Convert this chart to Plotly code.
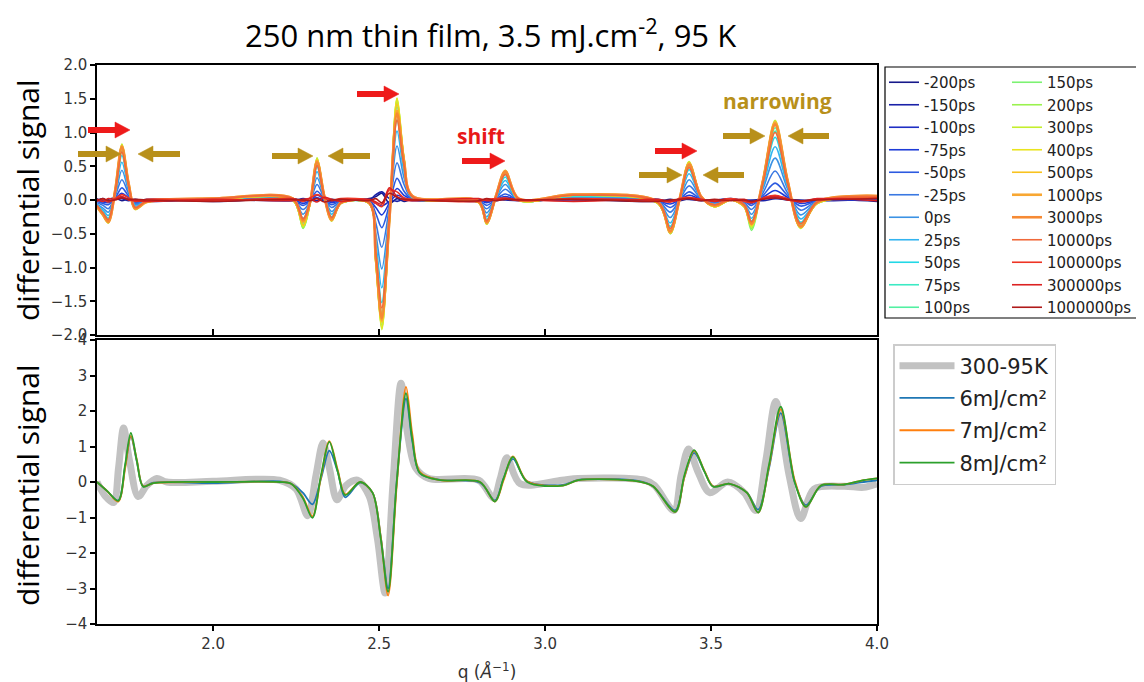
import plotly.graph_objects as go

# ---------------- data: top panel (time delays) ----------------
Q_TOP = [1.650, 1.668, 1.684, 1.705, 1.725, 1.745, 1.765, 1.80, 2.00, 2.24,
         2.271, 2.292, 2.313, 2.335, 2.357, 2.385, 2.47, 2.49, 2.508, 2.531,
         2.554, 2.575, 2.60, 2.80, 2.824, 2.852, 2.88, 2.92, 3.084, 3.34,
         3.377, 3.405, 3.434, 3.47, 3.51, 3.56, 3.60, 3.622, 3.657, 3.693,
         3.73, 3.77, 3.82, 4.00]

TIME_LABELS = ["-200ps", "-150ps", "-100ps", "-75ps", "-50ps", "-25ps", "0ps", "25ps",
               "50ps", "75ps", "100ps", "150ps", "200ps", "300ps", "400ps", "500ps",
               "1000ps", "3000ps", "10000ps", "100000ps", "300000ps", "1000000ps"]

S_M200 = [0.02, -0.02, 0.01, 0.03, -0.01, 0.02, -0.02, 0.01, -0.02, 0.02, -0.01, 0.01, 0.03, -0.02, 0.01, -0.01, 0.02, 0.05, 0.10, -0.05, 0.02, -0.02, 0.01, -0.02, 0.01, -0.01, 0.02, 0.00, 0.01, -0.02, 0.01, -0.01, 0.02, 0.00, -0.02, 0.01, 0.00, -0.01, 0.02, 0.03, 0.00, -0.02, 0.01, -0.02]
S_M150 = [-0.01, 0.02, -0.02, 0.01, 0.02, -0.01, 0.01, -0.02, 0.01, -0.01, 0.02, 0.00, -0.01, 0.02, -0.01, 0.01, 0.00, 0.08, 0.12, 0.02, -0.02, 0.01, -0.01, 0.01, -0.02, 0.01, 0.00, -0.01, 0.02, 0.01, -0.02, 0.01, 0.01, -0.01, 0.00, 0.02, -0.01, 0.00, -0.01, 0.02, 0.01, 0.00, -0.01, 0.01]
S_M100 = [-0.01, -0.01, -0.02, 0.01, 0.04, 0.01, -0.01, 0.00, 0.00, 0.00, -0.02, 0.00, 0.03, 0.00, -0.02, 0.00, 0.00, -0.05, -0.09, -0.02, 0.07, 0.03, 0.00, 0.00, -0.02, 0.00, 0.02, 0.00, 0.00, 0.00, -0.02, 0.00, 0.03, 0.00, -0.01, 0.00, -0.01, -0.02, 0.02, 0.06, 0.02, -0.02, 0.00, 0.00]
S_M75 = [-0.01, -0.03, -0.04, 0.02, 0.10, 0.03, -0.02, 0.00, 0.00, 0.00, -0.05, -0.01, 0.07, 0.01, -0.04, -0.01, -0.01, -0.11, -0.22, -0.04, 0.17, 0.07, 0.01, 0.00, -0.04, 0.01, 0.05, 0.00, 0.01, -0.01, -0.06, 0.00, 0.07, 0.01, -0.01, 0.00, -0.01, -0.05, 0.04, 0.14, 0.04, -0.05, -0.01, 0.01]
S_M50 = [-0.02, -0.05, -0.07, 0.03, 0.18, 0.06, -0.03, -0.01, 0.00, 0.00, -0.08, -0.01, 0.13, 0.01, -0.07, -0.01, -0.01, -0.20, -0.41, -0.07, 0.32, 0.13, 0.01, -0.01, -0.08, 0.01, 0.09, 0.00, 0.02, -0.01, -0.11, 0.00, 0.12, 0.01, -0.02, 0.00, -0.02, -0.08, 0.07, 0.25, 0.07, -0.09, -0.01, 0.01]
S_M25 = [-0.04, -0.08, -0.13, 0.06, 0.30, 0.10, -0.05, -0.01, 0.00, 0.00, -0.14, -0.02, 0.23, 0.02, -0.11, -0.02, -0.02, -0.34, -0.70, -0.11, 0.55, 0.23, 0.02, -0.02, -0.13, 0.02, 0.16, 0.00, 0.03, -0.02, -0.18, 0.00, 0.21, 0.02, -0.04, 0.00, -0.04, -0.14, 0.11, 0.43, 0.11, -0.15, -0.02, 0.02]
S_0 = [-0.06, -0.12, -0.18, 0.08, 0.44, 0.14, -0.07, -0.02, 0.01, 0.00, -0.21, -0.03, 0.33, 0.03, -0.17, -0.03, -0.03, -0.50, -1.02, -0.17, 0.80, 0.33, 0.03, -0.02, -0.19, 0.03, 0.23, 0.00, 0.04, -0.03, -0.26, 0.00, 0.30, 0.03, -0.06, 0.00, -0.06, -0.21, 0.17, 0.62, 0.17, -0.22, -0.03, 0.03]
S_25 = [-0.07, -0.15, -0.23, 0.11, 0.56, 0.18, -0.09, -0.02, 0.01, 0.00, -0.27, -0.04, 0.42, 0.04, -0.21, -0.04, -0.04, -0.63, -1.30, -0.21, 1.02, 0.42, 0.04, -0.03, -0.25, 0.04, 0.29, 0.00, 0.05, -0.04, -0.34, 0.00, 0.39, 0.04, -0.07, 0.00, -0.07, -0.27, 0.21, 0.79, 0.21, -0.28, -0.04, 0.04]
S_50 = [-0.08, -0.18, -0.27, 0.12, 0.66, 0.21, -0.11, -0.02, 0.01, 0.00, -0.31, -0.04, 0.49, 0.04, -0.25, -0.04, -0.04, -0.74, -1.52, -0.25, 1.19, 0.49, 0.04, -0.03, -0.29, 0.04, 0.34, 0.00, 0.06, -0.04, -0.39, 0.00, 0.45, 0.04, -0.08, 0.00, -0.08, -0.31, 0.25, 0.93, 0.25, -0.33, -0.04, 0.04]
S_75 = [-0.09, -0.20, -0.30, 0.14, 0.72, 0.23, -0.12, -0.03, 0.01, 0.00, -0.34, -0.05, 0.54, 0.05, -0.27, -0.05, -0.05, -0.81, -1.67, -0.27, 1.31, 0.54, 0.05, -0.04, -0.32, 0.05, 0.38, 0.00, 0.06, -0.05, -0.43, 0.00, 0.50, 0.05, -0.09, 0.00, -0.09, -0.34, 0.27, 1.02, 0.27, -0.36, -0.05, 0.05]
S_100 = [-0.10, -0.21, -0.31, 0.14, 0.76, 0.24, -0.12, -0.03, 0.01, 0.00, -0.36, -0.05, 0.57, 0.05, -0.29, -0.05, -0.05, -0.86, -1.76, -0.29, 1.38, 0.57, 0.05, -0.04, -0.33, 0.05, 0.40, 0.00, 0.07, -0.05, -0.46, 0.00, 0.52, 0.05, -0.10, 0.00, -0.10, -0.36, 0.29, 1.07, 0.29, -0.38, -0.05, 0.05]
S_150 = [-0.10, -0.22, -0.33, 0.15, 0.80, 0.25, -0.13, -0.03, 0.01, 0.00, -0.42, -0.05, 0.60, 0.05, -0.30, -0.05, -0.05, -0.90, -1.85, -0.30, 1.45, 0.60, 0.05, -0.04, -0.35, 0.05, 0.42, 0.00, 0.07, -0.05, -0.50, 0.00, 0.55, 0.05, -0.10, 0.00, -0.10, -0.45, 0.30, 1.13, 0.30, -0.40, -0.05, 0.05]
S_200 = [-0.10, -0.22, -0.34, 0.15, 0.82, 0.26, -0.13, -0.03, 0.01, 0.00, -0.41, -0.05, 0.62, 0.05, -0.31, -0.05, -0.05, -0.92, -1.89, -0.31, 1.48, 0.61, 0.05, -0.04, -0.36, 0.05, 0.43, 0.00, 0.07, -0.05, -0.49, 0.00, 0.56, 0.05, -0.10, 0.00, -0.10, -0.42, 0.31, 1.15, 0.31, -0.41, -0.05, 0.05]
S_300 = [-0.10, -0.23, -0.34, 0.16, 0.83, 0.26, -0.14, -0.03, 0.01, 0.00, -0.40, -0.05, 0.62, 0.05, -0.31, -0.05, -0.05, -0.94, -1.92, -0.31, 1.51, 0.62, 0.05, -0.04, -0.36, 0.05, 0.44, 0.00, 0.07, -0.05, -0.50, 0.00, 0.57, 0.05, -0.10, 0.00, -0.10, -0.40, 0.31, 1.18, 0.31, -0.42, -0.05, 0.05]
S_400 = [-0.10, -0.22, -0.33, 0.15, 0.80, 0.25, -0.13, -0.03, 0.01, 0.00, -0.38, -0.05, 0.60, 0.05, -0.30, -0.05, -0.05, -0.92, -1.90, -0.30, 1.50, 0.60, 0.05, -0.04, -0.35, 0.05, 0.42, 0.00, 0.07, -0.05, -0.48, 0.00, 0.55, 0.05, -0.10, 0.00, -0.10, -0.38, 0.30, 1.13, 0.30, -0.40, -0.05, 0.05]
S_500 = [-0.10, -0.22, -0.32, 0.15, 0.78, 0.25, -0.13, -0.03, 0.01, 0.00, -0.37, -0.05, 0.59, 0.05, -0.29, -0.05, -0.05, -0.88, -1.81, -0.29, 1.42, 0.59, 0.05, -0.04, -0.34, 0.05, 0.41, 0.00, 0.07, -0.05, -0.47, 0.00, 0.54, 0.05, -0.10, 0.00, -0.10, -0.37, 0.29, 1.11, 0.29, -0.39, -0.05, 0.05]
S_1000 = [-0.10, -0.22, -0.33, 0.15, 0.80, 0.25, -0.13, -0.03, 0.02, 0.02, -0.32, -0.03, 0.58, 0.05, -0.30, -0.04, -0.04, -0.86, -1.78, -0.28, 1.32, 0.58, 0.06, -0.02, -0.34, 0.06, 0.43, 0.02, 0.08, -0.03, -0.48, 0.01, 0.54, 0.05, -0.08, 0.01, -0.08, -0.36, 0.30, 1.15, 0.30, -0.40, -0.03, 0.06]
S_3000 = [-0.09, -0.21, -0.32, 0.14, 0.78, 0.24, -0.12, -0.02, 0.02, 0.02, -0.30, -0.03, 0.56, 0.05, -0.28, -0.04, -0.04, -0.84, -1.75, -0.27, 1.28, 0.56, 0.06, -0.02, -0.33, 0.06, 0.42, 0.02, 0.08, -0.03, -0.46, 0.01, 0.52, 0.05, -0.08, 0.01, -0.08, -0.35, 0.29, 1.12, 0.29, -0.39, -0.03, 0.06]
S_10000 = [-0.08, -0.19, -0.29, 0.13, 0.71, 0.22, -0.11, -0.02, 0.02, 0.02, -0.28, -0.03, 0.51, 0.04, -0.26, -0.04, -0.04, -0.78, -1.60, -0.25, 1.18, 0.51, 0.05, -0.02, -0.31, 0.05, 0.38, 0.02, 0.07, -0.03, -0.42, 0.01, 0.48, 0.04, -0.07, 0.01, -0.07, -0.32, 0.26, 1.00, 0.26, -0.35, -0.03, 0.05]
S_100000 = [-0.02, 0.01, -0.03, 0.02, 0.08, 0.03, -0.02, 0.01, -0.01, 0.02, -0.02, 0.03, 0.08, 0.03, -0.01, 0.02, 0.00, -0.05, -0.10, 0.15, 0.12, 0.03, 0.01, -0.02, 0.01, 0.02, 0.03, -0.01, 0.02, -0.01, -0.03, 0.02, 0.04, 0.00, -0.01, 0.02, -0.02, -0.04, 0.03, 0.07, 0.02, -0.03, 0.01, 0.03]
S_300000 = [0.01, -0.02, 0.02, 0.01, 0.05, 0.00, -0.01, -0.02, 0.01, -0.01, 0.01, 0.02, -0.03, 0.04, 0.01, -0.02, 0.01, -0.03, -0.06, 0.18, 0.05, 0.00, -0.01, 0.02, -0.01, 0.00, 0.02, 0.01, -0.02, 0.01, -0.02, 0.00, 0.03, 0.01, -0.02, 0.00, 0.01, -0.03, 0.02, 0.05, 0.00, -0.02, 0.02, -0.01]
S_1000000 = [-0.01, 0.02, -0.01, 0.00, 0.03, 0.01, 0.01, 0.00, -0.02, 0.01, 0.00, -0.01, 0.02, -0.03, 0.00, 0.01, -0.01, 0.02, -0.04, 0.10, 0.04, 0.01, 0.00, -0.01, 0.02, -0.01, 0.01, 0.00, 0.01, -0.02, 0.00, 0.01, 0.02, -0.01, 0.01, -0.01, 0.00, -0.02, 0.01, 0.03, 0.01, -0.01, 0.00, 0.02]

TOP_SERIES = [S_M200, S_M150, S_M100, S_M75, S_M50, S_M25, S_0, S_25, S_50, S_75, S_100,
              S_150, S_200, S_300, S_400, S_500, S_1000, S_3000, S_10000, S_100000,
              S_300000, S_1000000]

TIME_COLORS = ["#16198a", "#1a22a8", "#1f2fc4", "#1e3cd8", "#2c5ae0", "#3a78e2",
               "#3b92e4", "#33b4f0", "#22d8e6", "#3ceac4", "#52f0a2", "#7cf272",
               "#9af24e", "#c4ee2c", "#eae41e", "#f8c21e", "#f8a732", "#f68a34",
               "#f0693a", "#ee3424", "#dc2222", "#b01a1a"]

# ---------------- data: bottom panel (fluence) ----------------
Q_BOT = [1.650, 1.680, 1.714, 1.735, 1.752, 1.770, 1.789, 1.82, 2.00, 2.20,
         2.235, 2.27, 2.299, 2.325, 2.35, 2.375, 2.398, 2.443, 2.48, 2.505,
         2.527, 2.553, 2.581, 2.60, 2.623, 2.684, 2.804, 2.849, 2.875, 2.903,
         2.946, 3.054, 3.10, 3.28, 3.325, 3.392, 3.42, 3.449, 3.48, 3.506,
         3.556, 3.608, 3.642, 3.675, 3.71, 3.752, 3.786, 3.831, 3.90, 3.96, 4.00]

BOT_6MJ = [0.00, -0.25, -0.52, 0.45, 1.27, 0.58, -0.12, -0.02, -0.03, 0.02,
           -0.05, -0.30, -0.63, 0.10, 0.88, 0.30, -0.43, -0.02, -0.30, -1.55,
           -3.00, 0.00, 2.35, 1.15, 0.25, 0.06, -0.02, -0.52, 0.10, 0.65,
           0.02, -0.08, 0.06, 0.03, -0.12, -0.80, 0.15, 0.82, 0.30, -0.12,
           -0.05, -0.30, -0.78, 0.40, 1.94, 0.00, -0.65, -0.12, -0.08, 0.00, 0.05]
BOT_7MJ = [0.00, -0.25, -0.55, 0.40, 1.30, 0.62, -0.12, -0.03, 0.00, 0.00,
           -0.05, -0.42, -0.97, 0.15, 1.15, 0.35, -0.35, 0.00, -0.30, -1.55,
           -3.20, -0.10, 2.68, 1.35, 0.28, 0.05, 0.00, -0.55, 0.05, 0.72,
           0.02, -0.10, 0.05, 0.02, -0.12, -0.84, 0.15, 0.88, 0.32, -0.12,
           -0.05, -0.30, -0.86, 0.45, 2.05, 0.05, -0.70, -0.10, -0.07, 0.05, 0.10]
BOT_8MJ = [0.00, -0.25, -0.53, 0.50, 1.38, 0.60, -0.13, -0.03, 0.00, 0.00,
           -0.05, -0.45, -1.01, 0.20, 1.13, 0.30, -0.37, 0.00, -0.30, -1.60,
           -3.09, 0.00, 2.50, 1.20, 0.25, 0.05, 0.00, -0.55, 0.10, 0.71,
           0.00, -0.10, 0.05, 0.02, -0.12, -0.84, 0.20, 0.90, 0.30, -0.13,
           -0.05, -0.30, -0.86, 0.50, 2.12, 0.00, -0.70, -0.10, -0.07, 0.05, 0.10]

Q_GRAY = [1.650, 1.675, 1.700, 1.715, 1.730, 1.748, 1.774, 1.80, 1.83, 1.86,
          2.00, 2.20, 2.25, 2.285, 2.31, 2.331, 2.35, 2.373, 2.40, 2.435,
          2.47, 2.495, 2.518, 2.542, 2.566, 2.585, 2.61, 2.65, 2.80, 2.845,
          2.865, 2.885, 2.925, 3.05, 3.10, 3.30, 3.33, 3.388, 3.41, 3.432,
          3.46, 3.496, 3.55, 3.60, 3.635, 3.665, 3.695, 3.735, 3.77, 3.81,
          3.90, 3.96, 4.00]
BOT_300_95K = [0.00, -0.40, -0.58, 0.40, 1.52, 0.60, -0.41, -0.10, 0.10, 0.00,
               0.02, 0.05, -0.20, -0.95, 0.20, 1.10, 0.40, -0.50, -0.10, 0.05,
               -0.40, -1.60, -3.13, 0.00, 2.78, 1.40, 0.40, 0.10, 0.05, -0.45,
               0.10, 0.68, -0.05, 0.05, 0.10, 0.05, -0.10, -0.80, 0.20, 0.93,
               0.30, -0.30, 0.00, -0.30, -0.80, 0.60, 2.27, 0.20, -1.03, -0.20,
               -0.12, -0.15, -0.05]

FLUENCE_LABELS = ["300-95K", "6mJ/cm²", "7mJ/cm²", "8mJ/cm²"]

# ---------------- geometry ----------------
W, H = 1144, 682
OFF = 8                       # page body margin of the browser
L, R, T, B = 89, 869, 57, 616  # plot area in figure pixels


def sx(x):
    """screen pixel x -> paper x"""
    return (x - OFF - L) / (R - L)


def sy(y):
    """screen pixel y -> paper y"""
    return (B - (y - OFF)) / (B - T)


fig = go.Figure()

n_col = 11
for i, (lab, vals, col) in enumerate(zip(TIME_LABELS, TOP_SERIES, TIME_COLORS)):
    wid = 2.6 if lab in ("1000ps", "3000ps") else 1.6
    fig.add_trace(go.Scatter(
        x=Q_TOP, y=vals, mode="lines", name=lab,
        line=dict(color=col, width=wid, shape="spline", smoothing=0.9),
        xaxis="x", yaxis="y", legend="legend" if i < n_col else "legend3"))

bot_sets = [(Q_GRAY, BOT_300_95K, "#c2c2c2", 7),
            (Q_BOT, BOT_6MJ, "#1f77b4", 1.8),
            (Q_BOT, BOT_7MJ, "#ff7f0e", 1.8),
            (Q_BOT, BOT_8MJ, "#2ca02c", 1.8)]
for lab, (qx, vals, col, wid) in zip(FLUENCE_LABELS, bot_sets):
    fig.add_trace(go.Scatter(
        x=qx, y=vals, mode="lines", name=lab, legendgroup=lab,
        line=dict(color=col, width=wid, shape="spline", smoothing=0.9),
        xaxis="x2", yaxis="y2", legend="legend2"))

tick_font = dict(family="DejaVu Sans", size=15, color="#333333")
axis_common = dict(showline=True, mirror=True, linecolor="black", linewidth=1.5,
                   showgrid=False, zeroline=False, tickcolor="black", tickwidth=2,
                   tickfont=tick_font)

top_dom = [sy(335), sy(65)]
bot_dom = [sy(624), sy(340)]

leg_font = dict(family="DejaVu Sans", size=15, color="#222222")
fig.update_layout(
    width=W, height=H,
    margin=dict(l=L, r=W - R, t=T, b=H - B, autoexpand=False),
    paper_bgcolor="white", plot_bgcolor="white",
    xaxis=dict(domain=[0, 1], range=[1.65, 4.0], anchor="y", showticklabels=False,
               ticks="inside", ticklen=6, tickvals=[2.0, 2.5, 3.0, 3.5, 4.0], **axis_common),
    yaxis=dict(domain=top_dom, range=[-2.0, 2.0], anchor="x", ticks="outside", ticklen=5,
               dtick=0.5, tick0=0, tickformat=".1f", **axis_common),
    xaxis2=dict(domain=[0, 1], range=[1.65, 4.0], anchor="y2", matches="x", ticks="outside",
                ticklen=5, tickvals=[2.0, 2.5, 3.0, 3.5, 4.0], tickformat=".1f",
                title=dict(text="q (<i>Å</i><sup>−1</sup>)",
                           font=dict(family="DejaVu Sans", size=17, color="#333333"),
                           standoff=14),
                **axis_common),
    yaxis2=dict(domain=bot_dom, range=[-4, 4], anchor="x2", ticks="outside", ticklen=5,
                dtick=1, tick0=0, **axis_common),
    legend=dict(x=sx(884), y=sy(66), xanchor="left", yanchor="top", itemwidth=30,
                bgcolor="rgba(0,0,0,0)", borderwidth=0, font=leg_font),
    legend3=dict(x=sx(1007), y=sy(66), xanchor="left", yanchor="top", itemwidth=30,
                 bgcolor="rgba(0,0,0,0)", borderwidth=0, font=leg_font),
    legend2=dict(x=sx(893), y=sy(344), xanchor="left", yanchor="top",
                 bordercolor="#cccccc", borderwidth=1.5, bgcolor="white", itemwidth=55,
                 tracegroupgap=2, traceorder="grouped",
                 font=dict(family="DejaVu Sans", size=21, color="#222222")),
    showlegend=True,
)

ann = []
ann.append(dict(text="250 nm thin film, 3.5 mJ.cm<sup>-2</sup>, 95 K", xref="paper", yref="paper",
                x=sx(490), y=sy(34), showarrow=False, xanchor="center", yanchor="middle",
                font=dict(family="Open Sans", size=31, color="black")))
for yc in (200, 485):
    ann.append(dict(text="differential signal", xref="paper", yref="paper", x=sx(27), y=sy(yc),
                    textangle=-90, showarrow=False, xanchor="center", yanchor="middle",
                    font=dict(family="Open Sans", size=30, color="black")))
ann.append(dict(text="<b>shift</b>", xref="paper", yref="paper", x=sx(481), y=sy(136),
                xanchor="center", yanchor="middle", showarrow=False,
                font=dict(family="Open Sans", size=21, color="#e81818")))
ann.append(dict(text="<b>narrowing</b>", xref="paper", yref="paper", x=sx(777), y=sy(101),
                xanchor="center", yanchor="middle", showarrow=False,
                font=dict(family="Open Sans", size=21, color="#b8901a")))
fig.update_layout(annotations=ann)

# legend frame of the time-delay legend
fig.add_shape(type="rect", xref="paper", yref="paper", x0=sx(885), x1=sx(1142),
              y0=sy(318), y1=sy(67), line=dict(color="black", width=1.2),
              fillcolor="rgba(0,0,0,0)", layer="above")

# arrows drawn as shapes: shaft + triangular head (screen pixel positions)
RED = "#ee1a1a"
GOLD = "#b8901a"
arrows = [
    ((88, 130), (130, 130), RED),
    ((357, 94), (399, 94), RED),
    ((462, 161), (505, 161), RED),
    ((655, 151), (697, 151), RED),
    ((78, 154), (121, 154), GOLD),
    ((180, 154), (138, 154), GOLD),
    ((272, 156), (313, 156), GOLD),
    ((370, 156), (328, 156), GOLD),
    ((639, 175), (682, 175), GOLD),
    ((744, 175), (703, 175), GOLD),
    ((723, 136), (765, 136), GOLD),
    ((829, 136), (788, 136), GOLD),
]
HEAD_LEN, HEAD_HALF, SHAFT = 15, 8, 6
for (tx, ty), (hx, hy), col in arrows:
    d = 1 if hx > tx else -1
    base = hx - d * HEAD_LEN
    fig.add_shape(type="line", xref="paper", yref="paper",
                  x0=sx(tx), y0=sy(ty), x1=sx(base + d * 1), y1=sy(hy),
                  line=dict(color=col, width=SHAFT))
    path = (f"M {sx(hx)},{sy(hy)} L {sx(base)},{sy(hy - HEAD_HALF)} "
            f"L {sx(base)},{sy(hy + HEAD_HALF)} Z")
    fig.add_shape(type="path", xref="paper", yref="paper", path=path,
                  fillcolor=col, line=dict(color=col, width=0.5))

fig.write_html("out.html")
